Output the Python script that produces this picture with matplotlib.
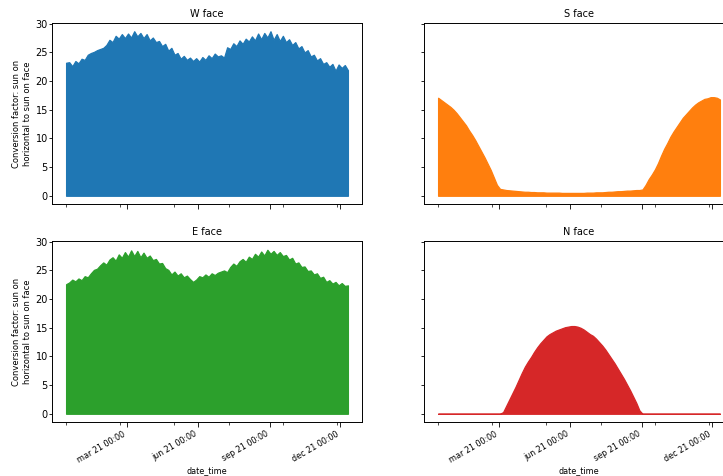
import pandas as pd
import matplotlib
matplotlib.use("Agg")
import matplotlib.pyplot as plt
import numpy as np

# day of year (2021) for every value below, 4-day spacing
day = np.arange(0, 365, 4)

w_face = [23.2, 23.3, 22.6, 23.5, 23.1, 23.9, 23.7, 24.6, 24.9, 25.1,
          25.4, 25.6, 25.8, 26.3, 27.2, 26.8, 27.9, 27.4, 28.2, 27.5,
          28.3, 27.6, 28.7, 27.8, 28.4, 27.5, 28.2, 27.1, 27.6, 26.8,
          27.0, 26.1, 26.5, 25.3, 25.8, 24.6, 24.9, 23.9, 24.4, 23.7,
          24.1, 23.5, 24.0, 23.4, 24.2, 23.7, 24.5, 24.0, 24.8, 24.3,
          24.5, 24.1, 25.9, 25.6, 26.6, 26.1, 27.1, 26.5, 27.4, 26.9,
          27.8, 27.1, 28.3, 27.3, 28.4, 27.6, 28.7, 27.2, 28.2, 27.0,
          27.9, 26.8, 27.3, 26.3, 26.8, 25.7, 26.1, 25.0, 25.4, 24.3,
          24.6, 23.6, 24.0, 23.0, 23.3, 22.5, 23.0, 21.8, 22.9, 22.3,
          22.8, 21.9]

s_face = [17.1, 16.7, 16.3, 15.9, 15.5, 15.0, 14.4, 13.7, 13.0, 12.3,
          11.4, 10.6, 9.7, 8.7, 7.7, 6.7, 5.6, 4.5, 3.2, 1.9,
          1.2, 1.1, 1.0, 0.95, 0.9, 0.85, 0.8, 0.75, 0.7, 0.7,
          0.65, 0.65, 0.6, 0.6, 0.6, 0.55, 0.55, 0.55, 0.55, 0.55,
          0.5, 0.5, 0.5, 0.5, 0.5, 0.5, 0.5, 0.5, 0.55, 0.55,
          0.55, 0.6, 0.6, 0.6, 0.65, 0.7, 0.7, 0.75, 0.8, 0.8,
          0.85, 0.9, 0.9, 0.95, 1.0, 1.0, 1.1, 1.9, 2.9, 3.7,
          4.6, 5.7, 7.0, 8.2, 9.2, 10.3, 11.2, 12.0, 12.8, 13.6,
          14.2, 14.8, 15.4, 15.9, 16.3, 16.6, 16.9, 17.0, 17.2, 17.2,
          17.1, 16.8]

e_face = [22.6, 22.9, 23.4, 23.1, 23.6, 23.3, 24.0, 23.8, 24.5, 25.1,
          25.3, 25.9, 26.4, 26.0, 26.9, 27.3, 26.7, 27.8, 27.2, 28.2,
          27.4, 28.5, 27.5, 28.4, 27.3, 28.1, 27.2, 27.6, 26.8, 27.0,
          26.2, 26.3, 25.4, 25.1, 24.3, 24.8, 24.1, 24.5, 23.8, 24.1,
          23.5, 23.0, 23.4, 24.0, 23.8, 24.3, 23.9, 24.5, 24.2, 24.6,
          24.8, 25.0, 24.7, 25.6, 26.2, 25.8, 26.6, 27.0, 26.5, 27.4,
          27.0, 27.9, 27.4, 28.3, 27.6, 28.6, 27.9, 28.4, 27.7, 28.2,
          27.5, 27.7, 26.9, 27.2, 26.2, 26.4, 25.6, 25.7, 24.9, 25.0,
          24.3, 24.5, 23.7, 23.9, 23.0, 23.3, 22.7, 23.0, 22.4, 22.8,
          22.3, 22.4]

n_face = [0, 0, 0, 0, 0, 0, 0, 0, 0, 0,
          0, 0, 0, 0, 0, 0, 0, 0, 0, 0,
          0, 0.3, 1.4, 2.5, 3.6, 4.7, 5.9, 7.1, 8.2, 9.1,
          9.9, 10.8, 11.6, 12.3, 12.9, 13.5, 13.9, 14.2, 14.5, 14.7,
          14.9, 15.1, 15.2, 15.3, 15.3, 15.2, 15.0, 14.7, 14.3, 13.9,
          13.6, 13.1, 12.5, 11.9, 11.2, 10.4, 9.6, 8.8, 7.9, 7.0,
          6.1, 5.1, 4.1, 3.0, 1.9, 0.6, 0, 0, 0, 0,
          0, 0, 0, 0, 0, 0, 0, 0, 0, 0,
          0, 0, 0, 0, 0, 0, 0, 0, 0, 0,
          0, 0]

titles = ["W face", "S face", "E face", "N face"]
colors = ["tab:blue", "tab:orange", "tab:green", "tab:red"]
major_dates = ["2021-03-21", "2021-06-21", "2021-09-21", "2021-12-21"]
major_labels = ["mar 21 00:00", "jun 21 00:00", "sep 21 00:00", "dec 21 00:00"]
minor_dates = ["2021-01-01", "2021-03-12", "2021-05-21", "2021-07-30", "2021-10-08", "2021-12-17"]
ylab = "Conversion factor: sun on\nhorizontal to sun on face"

dates = pd.Timestamp("2021-01-01") + pd.to_timedelta(day, unit="D")
series = [w_face, s_face, e_face, n_face]

plt.rcParams["font.size"] = 7
plt.rcParams["axes.linewidth"] = 0.7
plt.rcParams["xtick.major.width"] = 0.6
plt.rcParams["ytick.major.width"] = 0.6
plt.rcParams["xtick.minor.width"] = 0.5
plt.rcParams["xtick.major.size"] = 3.5
plt.rcParams["ytick.major.size"] = 2
plt.rcParams["xtick.minor.size"] = 2
plt.rcParams["ytick.major.pad"] = 1
plt.rcParams["xtick.major.pad"] = 2

fig = plt.figure(figsize=(7.23, 4.76), dpi=100)
W, H = 723, 476
boxes = [(52, 23), (424, 23), (52, 241), (424, 241)]
axs = []
for i, (x0, y0) in enumerate(boxes):
    rect = [x0 / W, 1 - (y0 + 181) / H, 310 / W, 181 / H]
    if i == 0:
        ax = fig.add_axes(rect)
    else:
        ax = fig.add_axes(rect, sharex=axs[0], sharey=axs[0])
    axs.append(ax)

for i, ax in enumerate(axs):
    ax.fill_between(dates, 0, series[i], color=colors[i], lw=0.9, edgecolor=colors[i])
    ax.set_title(titles[i], pad=4, fontsize=7)
    ax.set_yticks([0, 5, 10, 15, 20, 25, 30])
    ax.tick_params(axis="y", labelsize=7)
    if i % 2 == 0:
        ax.set_ylabel(ylab, fontsize=6, labelpad=2.5)
    else:
        ax.tick_params(labelleft=False)
    if i >= 2:
        ax.set_xlabel("date_time", fontsize=5.8, labelpad=1)
    else:
        ax.tick_params(labelbottom=False)

axs[0].set_xticks(pd.to_datetime(major_dates))
axs[0].set_xticks(pd.to_datetime(minor_dates), minor=True)
for ax in axs[2:]:
    ax.set_xticklabels(major_labels, rotation=30, ha="right")
    ax.tick_params(axis="x", labelsize=5.8)

fig.savefig("out.png", dpi=100)
